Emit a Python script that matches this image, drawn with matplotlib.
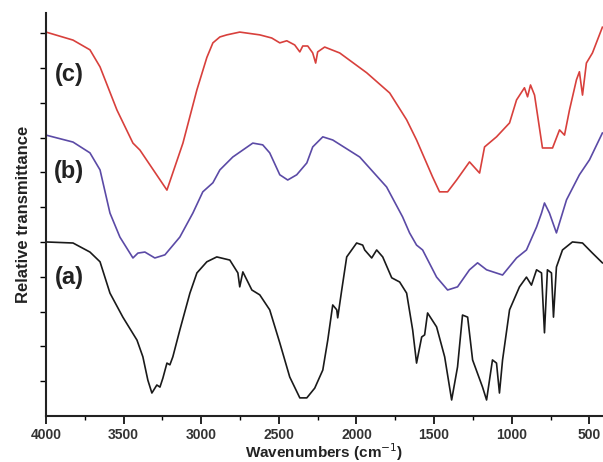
import matplotlib
matplotlib.use('Agg')
import matplotlib.pyplot as plt

plt.rcParams['font.family'] = ['Liberation Sans', 'DejaVu Sans']

# spectrum (c)
wn_c = [4000, 3826, 3717, 3652, 3543, 3440, 3395, 3221, 3118, 3028, 2964, 2925, 2880, 2835, 2752,
        2623, 2546, 2494, 2449, 2398, 2365, 2346, 2314, 2282, 2263, 2250, 2205, 2108, 1934, 1786,
        1677, 1613, 1510, 1465, 1413, 1355, 1272, 1207, 1175, 1098, 1014, 969, 918, 898, 879, 853,
        802, 737, 692, 660, 628, 583, 564, 544, 519, 480, 416]
t_c = [11.03, 10.80, 10.52, 10.03, 8.79, 7.84, 7.64, 6.49, 7.84, 9.37, 10.30, 10.72, 10.89, 10.95, 11.03,
       10.95, 10.86, 10.72, 10.78, 10.66, 10.46, 10.63, 10.63, 10.43, 10.14, 10.46, 10.60, 10.43, 9.86, 9.28,
       8.51, 7.93, 6.87, 6.44, 6.44, 6.78, 7.30, 6.98, 7.73, 8.02, 8.42, 9.08, 9.43, 9.17, 9.51, 9.22,
       7.70, 7.70, 8.22, 8.07, 8.79, 9.66, 9.89, 9.22, 10.14, 10.43, 11.17]

# spectrum (b)
wn_b = [4000, 3826, 3717, 3652, 3588, 3524, 3440, 3408, 3363, 3299, 3234, 3138, 3054, 2990, 2925,
        2880, 2797, 2668, 2604, 2559, 2494, 2443, 2385, 2320, 2282, 2217, 2153, 1979, 1806, 1703,
        1658, 1613, 1574, 1484, 1413, 1349, 1272, 1220, 1162, 1059, 969, 905, 840, 808, 789, 757,
        712, 673, 647, 564, 499, 416]
t_b = [8.07, 7.87, 7.56, 7.07, 5.83, 5.14, 4.54, 4.68, 4.71, 4.54, 4.63, 5.14, 5.83, 6.44, 6.70,
       7.07, 7.44, 7.84, 7.79, 7.56, 6.93, 6.78, 6.93, 7.27, 7.73, 8.02, 7.93, 7.44, 6.58, 5.72,
       5.26, 4.91, 4.77, 3.99, 3.62, 3.71, 4.20, 4.40, 4.20, 4.05, 4.54, 4.77, 5.43, 5.83, 6.12, 5.83,
       5.26, 5.83, 6.21, 6.93, 7.36, 8.13]

# spectrum (a)
wn_a = [4000, 3826, 3717, 3652, 3588, 3505, 3414, 3376, 3344, 3318, 3286, 3266, 3247, 3221, 3202,
        3183, 3138, 3073, 3028, 2964, 2900, 2816, 2764, 2752, 2732, 2674, 2623, 2559, 2494, 2430,
        2365, 2320, 2269, 2217, 2185, 2153, 2127, 2121, 2095, 2063, 1999, 1960, 1947, 1902, 1870,
        1831, 1773, 1722, 1677, 1638, 1613, 1580, 1561, 1542, 1484, 1432, 1387, 1349, 1317, 1284,
        1252, 1188, 1162, 1124, 1098, 1079, 1059, 1014, 950, 905, 873, 840, 808, 789, 770, 744,
        731, 712, 673, 609, 544, 480, 416]
t_a = [5.00, 4.97, 4.71, 4.43, 3.53, 2.84, 2.18, 1.70, 1.03, 0.66, 0.89, 0.83, 1.09, 1.52, 1.47,
       1.70, 2.47, 3.53, 4.11, 4.43, 4.57, 4.48, 4.11, 3.71, 4.14, 3.62, 3.48, 3.05, 2.10, 1.12,
       0.52, 0.52, 0.80, 1.32, 2.18, 3.19, 3.05, 2.82, 3.62, 4.57, 4.97, 4.91, 4.77, 4.54, 4.77,
       4.57, 3.97, 3.85, 3.53, 2.47, 1.52, 2.27, 2.33, 2.96, 2.56, 1.70, 0.46, 1.41, 2.90, 2.84,
       1.61, 0.83, 0.46, 1.61, 1.52, 0.66, 1.61, 3.05, 3.71, 3.99, 3.76, 4.20, 4.11, 2.39, 4.20, 4.11,
       2.84, 4.28, 4.77, 5.00, 4.97, 4.68, 4.40]

labels = ['(c)', '(b)', '(a)']
label_y = [9.80, 7.01, 3.99]
xticks = [4000, 3500, 3000, 2500, 2000, 1500, 1000, 500]

fig = plt.figure(figsize=(6.03, 4.62), dpi=100)
ax = fig.add_axes([0.0763, 0.0996, 0.9237, 0.8724])

ax.plot(wn_c, t_c, color='#d8403c', linewidth=1.2)
ax.plot(wn_b, t_b, color='#5b4aa6', linewidth=1.2)
ax.plot(wn_a, t_a, color='#1a1a1a', linewidth=1.2)

for lab, y in zip(labels, label_y):
    ax.text(3852, y, lab, fontsize=17, fontweight='bold', color='#222222', ha='center', va='center')

ax.set_xlim(4000, 412)
ax.set_ylim(0, 11.58)
ax.set_xticks(xticks)
ax.set_xticklabels([str(v) for v in xticks], fontsize=10, fontweight='bold', color='#333333')
ax.set_xticks([3750, 3250, 2750, 2250, 1750, 1250, 750], minor=True)
ax.set_yticks(range(1, 12))
ax.set_yticklabels([])
ax.tick_params(axis='x', which='major', direction='out', length=6, width=1.2, pad=3)
ax.tick_params(axis='x', which='minor', direction='out', length=3, width=1)
ax.tick_params(axis='y', direction='out', length=4, width=1)
for s in ['top', 'right']:
    ax.spines[s].set_visible(False)
for s in ['left', 'bottom']:
    ax.spines[s].set_linewidth(1.5)
    ax.spines[s].set_color('#222222')

ax.set_xlabel('Wavenumbers (cm$^{-1}$)', fontsize=11, fontweight='bold', color='#222222', labelpad=-1)
ax.set_ylabel('Relative transmittance', fontsize=12, fontweight='bold', color='#222222', labelpad=3)

fig.savefig('out.png', dpi=100)
